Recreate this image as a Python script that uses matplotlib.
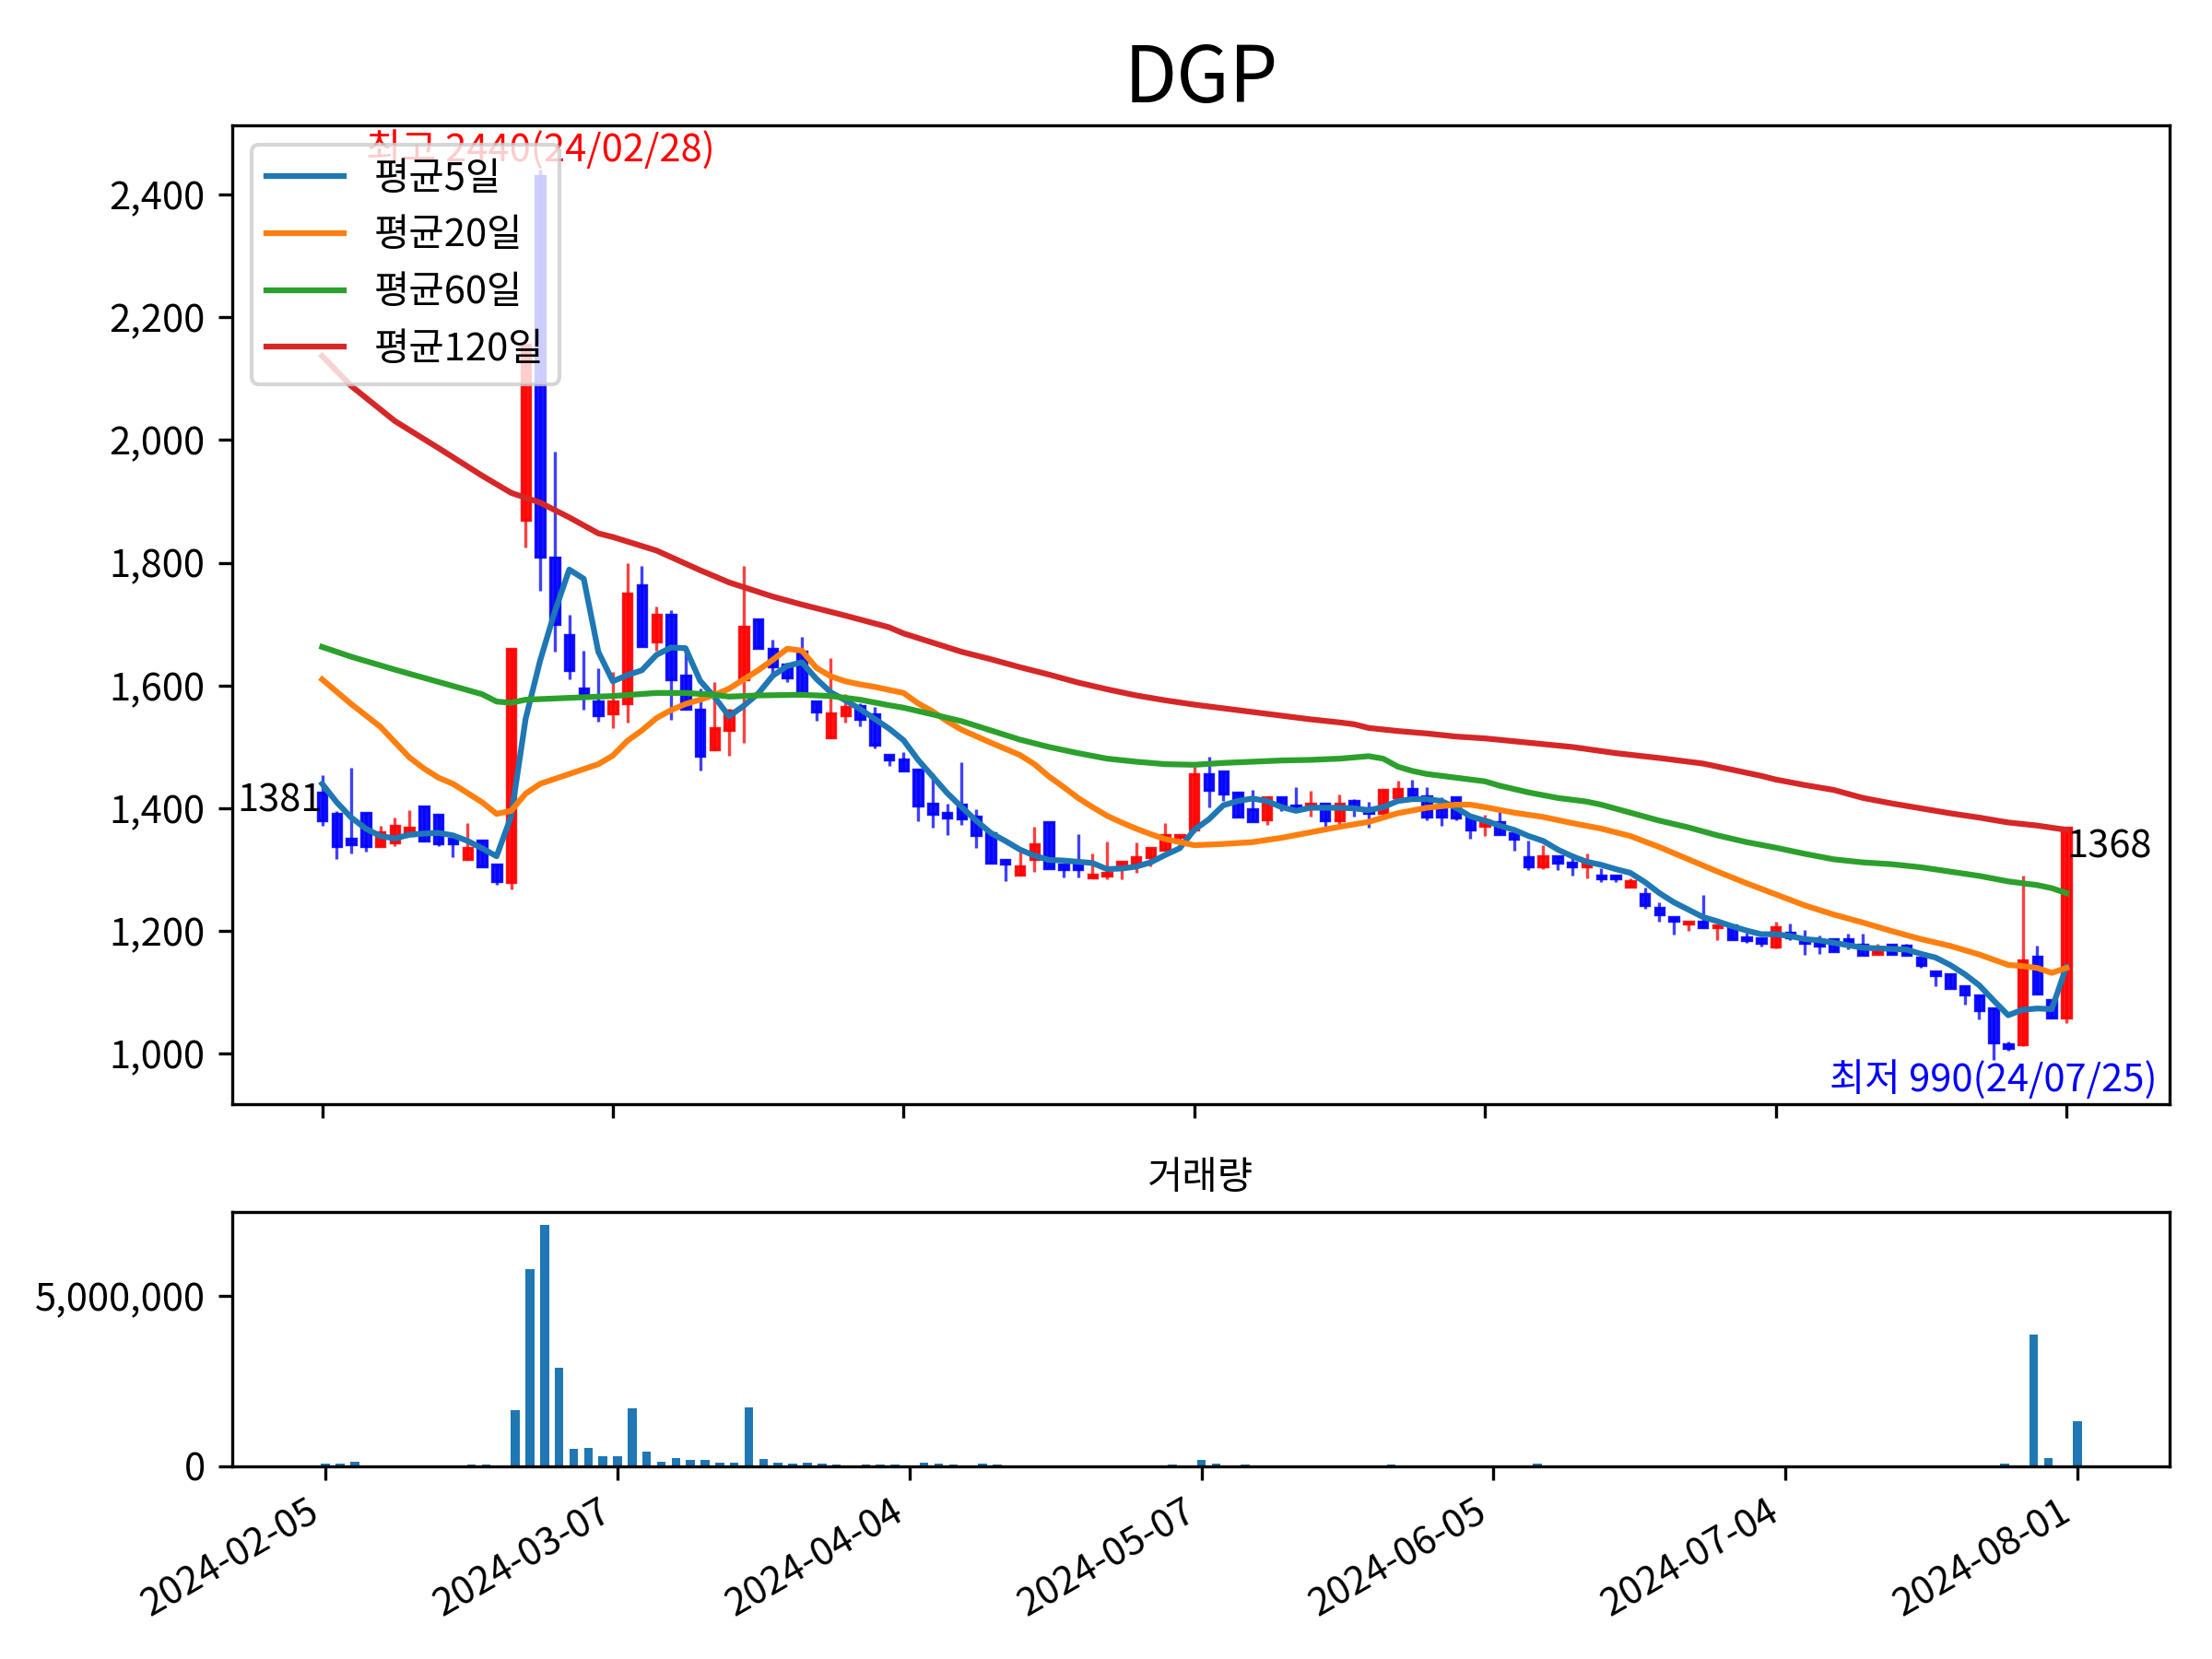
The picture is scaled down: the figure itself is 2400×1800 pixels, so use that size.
import matplotlib
matplotlib.use("Agg")
import matplotlib.pyplot as plt
from matplotlib.ticker import FuncFormatter
import numpy as np

plt.rcParams['font.family'] = ['Noto Sans CJK KR', 'DejaVu Sans']
plt.rcParams['axes.unicode_minus'] = False

title = "DGP"

open_ = [1425, 1391, 1351, 1393, 1338, 1345, 1356, 1403, 1390, 1351,
         1317, 1348, 1308, 1280, 1870, 2430, 1809, 1683, 1595, 1574,
         1555, 1571, 1763, 1672, 1715, 1616, 1561, 1496, 1527, 1611,
         1708, 1660, 1635, 1656, 1575, 1516, 1552, 1567, 1553, 1487,
         1479, 1463, 1407, 1392, 1406, 1386, 1360, 1316, 1292, 1317,
         1377, 1308, 1308, 1288, 1290, 1305, 1308, 1320, 1332, 1353,
         1365, 1455, 1460, 1426, 1398, 1382, 1418, 1405, 1402, 1407,
         1381, 1412, 1400, 1392, 1418, 1431, 1420, 1400, 1418, 1386,
         1372, 1378, 1359, 1320, 1306, 1322, 1311, 1305, 1290, 1290,
         1273, 1261, 1238, 1223, 1212, 1216, 1206, 1210, 1190, 1188,
         1175, 1198, 1185, 1182, 1187, 1187, 1178, 1163, 1178, 1177,
         1157, 1135, 1130, 1110, 1096, 1075, 1015, 1015, 1159, 1088,
         1060]
high = [1454, 1396, 1466, 1393, 1371, 1385, 1397, 1403, 1390, 1351,
        1376, 1348, 1308, 1660, 2155, 2440, 1981, 1715, 1657, 1628,
        1623, 1800, 1795, 1729, 1723, 1657, 1595, 1606, 1562, 1795,
        1708, 1675, 1638, 1679, 1575, 1645, 1586, 1572, 1566, 1487,
        1491, 1463, 1457, 1407, 1475, 1398, 1360, 1318, 1331, 1370,
        1377, 1308, 1358, 1326, 1346, 1313, 1345, 1336, 1376, 1357,
        1467, 1484, 1460, 1427, 1430, 1418, 1418, 1434, 1428, 1407,
        1422, 1415, 1411, 1430, 1445, 1447, 1434, 1418, 1418, 1386,
        1390, 1400, 1359, 1347, 1340, 1322, 1326, 1326, 1302, 1290,
        1286, 1271, 1247, 1223, 1216, 1259, 1210, 1210, 1197, 1188,
        1216, 1212, 1202, 1193, 1187, 1196, 1196, 1180, 1178, 1180,
        1157, 1135, 1130, 1110, 1096, 1075, 1020, 1290, 1177, 1088,
        1370]
low = [1372, 1318, 1327, 1329, 1338, 1338, 1356, 1346, 1338, 1320,
       1317, 1305, 1275, 1268, 1825, 1755, 1655, 1611, 1561, 1541,
       1530, 1540, 1665, 1657, 1544, 1560, 1462, 1495, 1485, 1506,
       1662, 1617, 1606, 1588, 1542, 1516, 1539, 1533, 1497, 1469,
       1461, 1379, 1368, 1356, 1373, 1336, 1312, 1281, 1290, 1296,
       1303, 1287, 1288, 1288, 1285, 1285, 1295, 1305, 1332, 1340,
       1361, 1401, 1412, 1386, 1379, 1373, 1396, 1400, 1387, 1369,
       1373, 1387, 1368, 1392, 1418, 1421, 1380, 1372, 1381, 1351,
       1355, 1358, 1331, 1299, 1301, 1299, 1290, 1286, 1280, 1280,
       1273, 1237, 1215, 1195, 1200, 1206, 1185, 1187, 1181, 1175,
       1172, 1185, 1162, 1163, 1168, 1170, 1162, 1161, 1163, 1162,
       1141, 1111, 1107, 1081, 1057, 990, 1005, 1012, 1098, 1058,
       1050]
close = [1381, 1338, 1341, 1338, 1361, 1372, 1369, 1348, 1343, 1343,
         1335, 1305, 1281, 1660, 2155, 1810, 1700, 1626, 1586, 1552,
         1575, 1750, 1665, 1715, 1611, 1562, 1486, 1531, 1559, 1696,
         1662, 1631, 1614, 1588, 1558, 1555, 1566, 1545, 1504, 1480,
         1461, 1405, 1391, 1385, 1383, 1357, 1312, 1310, 1306, 1342,
         1303, 1301, 1301, 1292, 1295, 1313, 1320, 1336, 1356, 1357,
         1455, 1430, 1424, 1386, 1379, 1418, 1405, 1400, 1407, 1381,
         1407, 1402, 1393, 1430, 1431, 1421, 1387, 1387, 1385, 1365,
         1380, 1358, 1351, 1306, 1322, 1311, 1305, 1311, 1286, 1286,
         1282, 1243, 1228, 1217, 1216, 1206, 1210, 1187, 1186, 1181,
         1206, 1190, 1181, 1177, 1168, 1183, 1162, 1168, 1163, 1162,
         1145, 1128, 1107, 1097, 1072, 1019, 1010, 1152, 1098, 1060,
         1368]
volume = [80000, 80000, 140000, 30000, 30000, 10000, 30000, 30000, 30000, 10000,
          60000, 60000, 30000, 1650000, 5800000, 7100000, 2900000, 500000, 530000, 300000,
          300000, 1700000, 430000, 130000, 250000, 180000, 180000, 110000, 110000, 1720000,
          210000, 110000, 70000, 110000, 70000, 50000, 30000, 50000, 50000, 50000,
          30000, 110000, 70000, 50000, 27000, 80000, 54000, 10000, 27000, 27000,
          10000, 27000, 27000, 27000, 10000, 10000, 27000, 27000, 54000, 10000,
          190000, 80000, 27000, 54000, 10000, 10000, 10000, 10000, 10000, 10000,
          27000, 10000, 10000, 54000, 10000, 10000, 10000, 10000, 10000, 27000,
          10000, 10000, 10000, 80000, 10000, 27000, 10000, 10000, 10000, 10000,
          10000, 27000, 27000, 27000, 10000, 10000, 27000, 10000, 10000, 10000,
          10000, 10000, 10000, 10000, 10000, 10000, 27000, 10000, 10000, 10000,
          10000, 10000, 10000, 27000, 27000, 80000, 27000, 3880000, 240000, 27000,
          1330000]

ma5 = [1440, 1410, 1385, 1367, 1355, 1351, 1357, 1359, 1360, 1356,
       1347, 1335, 1322, 1387, 1546, 1641, 1720, 1789, 1774, 1655,
       1607, 1617, 1625, 1650, 1662, 1661, 1608, 1581, 1550, 1567,
       1587, 1616, 1632, 1638, 1611, 1589, 1576, 1562, 1546, 1530,
       1511, 1479, 1452, 1425, 1402, 1380, 1360, 1347, 1333, 1323,
       1316, 1315, 1313, 1311, 1301, 1302, 1305, 1312, 1324, 1335,
       1365, 1382, 1405, 1412, 1416, 1412, 1402, 1396, 1401, 1401,
       1401, 1400, 1397, 1402, 1412, 1415, 1415, 1412, 1401, 1387,
       1380, 1372, 1365, 1355, 1347, 1333, 1322, 1313, 1308, 1301,
       1295, 1280, 1262, 1247, 1235, 1223, 1216, 1208, 1201, 1195,
       1195, 1192, 1187, 1185, 1181, 1177, 1173, 1172, 1171, 1170,
       1163, 1157, 1145, 1130, 1112, 1087, 1063, 1072, 1074, 1073,
       1142]

ma20_idx = [0, 2, 4, 6, 7, 8, 9, 10, 11, 12, 13, 14, 15, 17, 19, 20, 21, 22, 23, 24,
            25, 26, 27, 28, 29, 30, 31, 32, 33, 34, 35, 36, 37, 38, 39, 40, 41, 42, 43, 44,
            46, 48, 49, 50, 51, 52, 53, 54, 55, 56, 57, 58, 59, 60, 62, 64, 66, 68, 70, 72,
            74, 76, 78, 79, 80, 82, 84, 86, 88, 90, 92, 94, 96, 98, 100, 102, 104, 106, 108, 110,
            112, 114, 116, 117, 118, 119, 120]
ma20_val = [1610, 1570, 1533, 1483, 1465, 1450, 1440, 1425, 1410, 1391, 1396, 1424, 1440, 1456, 1472, 1486, 1510, 1527, 1547, 1560,
            1570, 1577, 1585, 1595, 1610, 1625, 1642, 1660, 1657, 1629, 1615, 1607, 1602, 1598, 1593, 1588, 1571, 1558, 1542, 1528,
            1507, 1487, 1472, 1452, 1435, 1417, 1402, 1388, 1377, 1367, 1358, 1350, 1345, 1340, 1342, 1345, 1352, 1361, 1370, 1378,
            1392, 1401, 1406, 1406, 1402, 1393, 1386, 1376, 1367, 1355, 1337, 1317, 1297, 1278, 1260, 1242, 1227, 1214, 1200, 1187,
            1176, 1162, 1145, 1143, 1140, 1132, 1140]

ma60_idx = [0, 2, 5, 8, 11, 12, 13, 14, 17, 20, 23, 25, 27, 28, 30, 33, 35, 37, 39, 40,
            42, 44, 46, 48, 50, 52, 54, 56, 58, 60, 62, 64, 66, 68, 70, 72, 73, 74, 75, 76,
            78, 80, 81, 83, 85, 87, 88, 90, 92, 94, 96, 98, 100, 102, 104, 106, 108, 110, 112, 114,
            116, 118, 119, 120]
ma60_val = [1663, 1647, 1626, 1606, 1586, 1574, 1572, 1577, 1580, 1583, 1588, 1588, 1585, 1582, 1584, 1585, 1583, 1577, 1568, 1564,
            1553, 1542, 1527, 1512, 1500, 1490, 1481, 1476, 1472, 1471, 1474, 1476, 1478, 1479, 1481, 1485, 1481, 1468, 1461, 1456,
            1450, 1444, 1437, 1426, 1417, 1411, 1406, 1393, 1380, 1369, 1356, 1345, 1336, 1326, 1317, 1312, 1309, 1304, 1297, 1290,
            1281, 1275, 1270, 1262]

ma120_idx = [0, 2, 5, 8, 11, 13, 15, 17, 19, 20, 23, 26, 28, 31, 33, 36, 39, 40, 42, 44,
             46, 48, 50, 52, 54, 56, 58, 60, 64, 68, 70, 71, 72, 74, 76, 78, 80, 83, 86, 89,
             92, 95, 97, 99, 100, 102, 104, 106, 108, 110, 112, 114, 116, 118, 120]
ma120_val = [2137, 2088, 2031, 1987, 1942, 1914, 1898, 1874, 1848, 1842, 1820, 1788, 1768, 1745, 1732, 1714, 1695, 1685, 1670, 1655,
             1643, 1630, 1618, 1605, 1594, 1584, 1576, 1569, 1557, 1545, 1540, 1537, 1531, 1526, 1522, 1517, 1514, 1507, 1500, 1490,
             1482, 1473, 1463, 1453, 1447, 1438, 1430, 1417, 1408, 1400, 1392, 1385, 1377, 1372, 1365]

tick_pos = [0, 20, 40, 60, 80, 100, 120]
tick_labels = ['2024-02-05', '2024-03-07', '2024-04-04', '2024-05-07',
               '2024-06-05', '2024-07-04', '2024-08-01']
high_date = '24/02/28'
low_date = '24/07/25'
legend_labels = ['평균5일', '평균20일', '평균60일', '평균120일']

o = np.array(open_); h = np.array(high); l = np.array(low); c = np.array(close)
x = np.arange(len(c))
cols = np.where(c >= o, 'red', 'blue')

fig = plt.figure(figsize=(8, 6), dpi=300)
ax1 = fig.add_axes([0.1049, 0.3342, 0.8759, 0.5902])
ax2 = fig.add_axes([0.1049, 0.1162, 0.8759, 0.1530])

ax1.vlines(x, l, h, colors=cols, linewidth=0.8, alpha=0.75)
ax1.bar(x, np.abs(c - o), bottom=np.minimum(o, c), width=0.6, color=cols,
        edgecolor=cols, linewidth=0.8, alpha=0.9)

ax1.plot(x, ma5, color='tab:blue', label=legend_labels[0])
ax1.plot(ma20_idx, ma20_val, color='tab:orange', label=legend_labels[1])
ax1.plot(ma60_idx, ma60_val, color='tab:green', label=legend_labels[2])
ax1.plot(ma120_idx, ma120_val, color='tab:red', label=legend_labels[3])

imax = int(np.argmax(h)); imin = int(np.argmin(l))
ax1.text(imax, h[imax], f'최고 {h[imax]}({high_date})', color='red', ha='center', va='bottom')
ax1.text(imin, l[imin], f'최저 {l[imin]}({low_date})', color='blue', ha='center', va='top')
ax1.text(x[0], c[0], f'{c[0]}', ha='right', va='bottom')
ax1.text(x[-1], c[-1], f'{c[-1]}', ha='left', va='top')

ax1.legend(loc='upper left')
ax1.set_title(title, fontsize=20)
ax1.set_xlim(-6.2, 127.1)
ax1.set_xticks(tick_pos)
ax1.tick_params(labelbottom=False)
ax1.yaxis.set_major_formatter(FuncFormatter(lambda v, p: f'{v:,.0f}'))

ax2.bar(x, volume, width=0.6, color='tab:blue')
ax2.set_title('거래량', fontsize=10)
ax2.set_xlim(-6.4, 126.3)
ax2.set_xticks(tick_pos)
ax2.set_xticklabels(tick_labels, rotation=30, ha='right')
ax2.set_yticks([0, 5000000])
ax2.yaxis.set_major_formatter(FuncFormatter(lambda v, p: f'{v:,.0f}'))

fig.savefig('out.png', dpi=300)
